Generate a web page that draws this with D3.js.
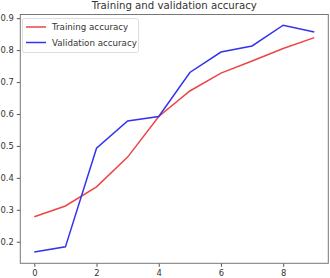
<!DOCTYPE html>
<html><head><meta charset="utf-8">
<script src="https://cdn.jsdelivr.net/npm/d3@7"></script>
<style>body{margin:0;background:#fff}svg{display:block}text{font-family:"DejaVu Sans",sans-serif;fill:#333}</style>
</head><body><svg id="c" width="330" height="278"></svg>
<script>
const epochs = [0,1,2,3,4,5,6,7,8,9];
const trainAcc = [0.278,0.312,0.372,0.465,0.592,0.672,0.728,0.766,0.805,0.839];
const valAcc = [0.168,0.184,0.493,0.578,0.592,0.730,0.794,0.813,0.878,0.857];
const xTicks = [0,2,4,6,8];
const yTicks = [0.2,0.3,0.4,0.5,0.6,0.7,0.8,0.9];
const seriesNames = ["Training accuracy","Validation accuracy"];
const colors = ["#ee4444","#3333ee"];

const svg = d3.select("#c");
const L=20.3,R=328.3,T=14.5,B=263.3;
const x = d3.scaleLinear().domain([-0.45,9.45]).range([L,R]);
const y = d3.scaleLinear().domain([0.1325,0.9115]).range([B,T]);

const gx = svg.append("g").attr("transform",`translate(0,${B})`)
  .call(d3.axisBottom(x).tickValues(xTicks).tickFormat(d3.format("d")).tickSize(3.5).tickPadding(3.5));
const gy = svg.append("g").attr("transform",`translate(${L},0)`)
  .call(d3.axisLeft(y).tickValues(yTicks).tickFormat(d3.format(".1f")).tickSize(3.5).tickPadding(3));
[gx,gy].forEach(g=>{g.select(".domain").remove();g.selectAll("line").attr("stroke","#555");g.selectAll("text").style("font-size","8.4px").attr("fill","#333");});

const line = d3.line().x((d,i)=>x(epochs[i])).y(d=>y(d));
[trainAcc,valAcc].forEach((s,k)=>{
  svg.append("path").datum(s).attr("d",line).attr("fill","none").attr("stroke",colors[k]).attr("stroke-width",1.5);
});

svg.append("rect").attr("x",L).attr("y",T).attr("width",R-L).attr("height",B-T).attr("fill","none").attr("stroke","#777").attr("stroke-width",1);

svg.append("text").attr("x",(L+R)/2).attr("y",8.5).attr("text-anchor","middle").style("font-size","10.2px").text("Training and validation accuracy");

const lg = svg.append("g");
lg.append("rect").attr("x",22.5).attr("y",18.5).attr("width",116).attr("height",34).attr("rx",2).attr("fill","#fff").attr("stroke","#ddd");
seriesNames.forEach((n,k)=>{
  const yy = 27 + k*15.5;
  lg.append("line").attr("x1",26).attr("x2",46).attr("y1",yy).attr("y2",yy).attr("stroke",colors[k]).attr("stroke-width",1.5);
  lg.append("text").attr("x",52).attr("y",yy+3.2).style("font-size","8.7px").text(n);
});
</script></body></html>
